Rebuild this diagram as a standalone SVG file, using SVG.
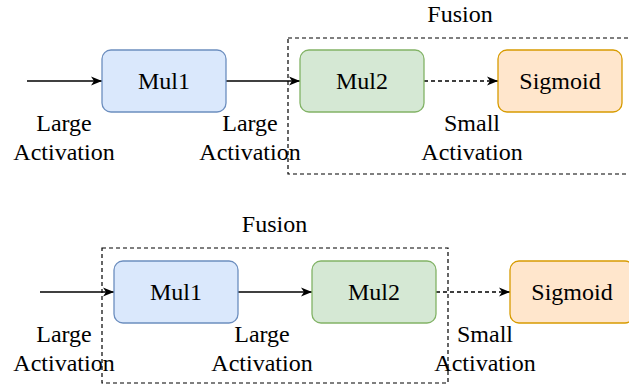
<svg xmlns="http://www.w3.org/2000/svg" width="629" height="386" viewBox="0 0 629 386">
<defs>
<style>
.n{stroke-width:1.3}
.blue{fill:#dae8fc;stroke:#6c8ebf}
.green{fill:#d5e8d4;stroke:#82b366}
.orange{fill:#ffe6cc;stroke:#d79b00}
.fus{fill:none;stroke:#000;stroke-width:1.2;stroke-dasharray:4 3}
.e{stroke:#000;stroke-width:1.4;fill:none}
.d{stroke-dasharray:4 3}
</style>
<marker id="arr" markerUnits="userSpaceOnUse" markerWidth="12" markerHeight="10" refX="11" refY="5" orient="auto" viewBox="0 0 12 10">
<path d="M0,0.5 L11,5 L0,9.5 L3,5 Z" fill="#000"/>
</marker>
</defs>
<g id="fusion-top"><rect class="fus" x="288" y="38" width="346" height="136"/><text x="460" y="22" font-family="Liberation Serif" font-size="24" text-anchor="middle">Fusion</text></g>
<g id="fusion-bottom"><rect class="fus" x="102" y="248" width="346" height="135"/><text x="274.5" y="232" font-family="Liberation Serif" font-size="24" text-anchor="middle">Fusion</text></g>
<g id="edges">
<line class="e" x1="27" y1="81" x2="102" y2="81" marker-end="url(#arr)"/>
<line class="e" x1="226" y1="81" x2="300" y2="81" marker-end="url(#arr)"/>
<line class="e d" x1="424" y1="81" x2="498" y2="81" marker-end="url(#arr)"/>
<line class="e" x1="40" y1="292" x2="114" y2="292" marker-end="url(#arr)"/>
<line class="e" x1="238" y1="292" x2="312" y2="292" marker-end="url(#arr)"/>
<line class="e d" x1="436" y1="292" x2="510" y2="292" marker-end="url(#arr)"/>
</g>
<g id="edge-labels" font-family="Liberation Serif" font-size="24" text-anchor="middle">
<text x="64" y="131">Large</text><text x="64" y="160">Activation</text>
<text x="250" y="131">Large</text><text x="250" y="160">Activation</text>
<text x="472" y="131">Small</text><text x="472" y="160">Activation</text>
<text x="64" y="342">Large</text><text x="64" y="371">Activation</text>
<text x="262" y="342">Large</text><text x="262" y="371">Activation</text>
<text x="485" y="342">Small</text><text x="485" y="371">Activation</text>
</g>
<g id="mul1-top"><rect class="n blue" x="102" y="50" width="124" height="62" rx="9"/><text x="164" y="89" font-family="Liberation Serif" font-size="24" text-anchor="middle">Mul1</text></g>
<g id="mul2-top"><rect class="n green" x="300" y="50" width="124" height="62" rx="9"/><text x="362" y="89" font-family="Liberation Serif" font-size="24" text-anchor="middle">Mul2</text></g>
<g id="sigmoid-top"><rect class="n orange" x="498" y="50" width="124" height="62" rx="9"/><text x="560" y="89" font-family="Liberation Serif" font-size="24" text-anchor="middle">Sigmoid</text></g>
<g id="mul1-bottom"><rect class="n blue" x="114" y="261" width="124" height="62" rx="9"/><text x="176" y="300" font-family="Liberation Serif" font-size="24" text-anchor="middle">Mul1</text></g>
<g id="mul2-bottom"><rect class="n green" x="312" y="261" width="124" height="62" rx="9"/><text x="374" y="300" font-family="Liberation Serif" font-size="24" text-anchor="middle">Mul2</text></g>
<g id="sigmoid-bottom"><rect class="n orange" x="510" y="261" width="124" height="62" rx="9"/><text x="572" y="300" font-family="Liberation Serif" font-size="24" text-anchor="middle">Sigmoid</text></g>
</svg>
